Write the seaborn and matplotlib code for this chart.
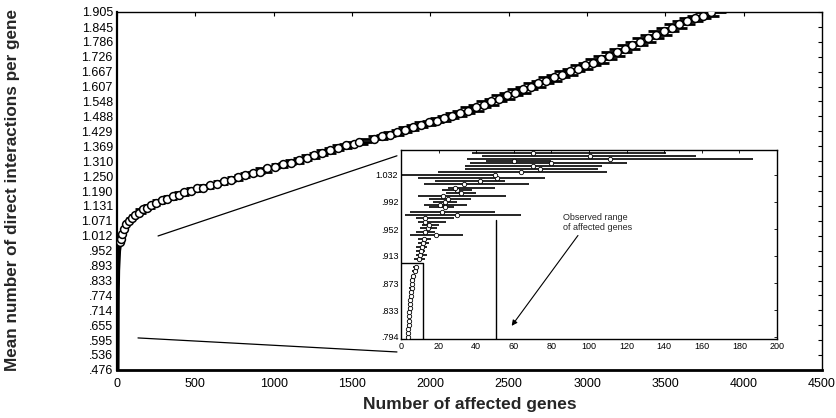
import numpy as np
import pandas as pd
import matplotlib
matplotlib.use("Agg")
import matplotlib.pyplot as plt
import seaborn as sns

# ---------------- data ----------------
y_tick_labels = ["1.905", "1.845", "1.786", "1.726", "1.667", "1.607", "1.548", "1.488",
                 "1.429", "1.369", "1.310", "1.250", "1.190", "1.131", "1.071", "1.012",
                 ".952", ".893", ".833", ".774", ".714", ".655", ".595", ".536", ".476"]
x_ticks = [0, 500, 1000, 1500, 2000, 2500, 3000, 3500, 4000, 4500]

# steep low part of the main curve
low_x = [2, 2.5, 3, 3.5, 4, 5, 6, 9, 12, 16, 22]
low_y = [0.476, 0.55, 0.65, 0.75, 0.794, 0.833, 0.873, 0.913, 0.952, 0.97, 0.985]

# main curve: mean number of genes affected (x), mean interactions (y), spread (xerr)
main_x = [22, 28, 35, 45, 60, 75, 95, 115, 140, 165, 190, 220, 250, 285, 320, 355, 395,
          430, 470, 510, 550, 595, 640, 685, 730, 775, 820, 865, 910, 960, 1010, 1060,
          1110, 1160, 1210, 1260, 1310, 1360, 1410, 1460, 1510, 1545, 1640, 1690, 1740,
          1790, 1840, 1890, 1940, 1990, 2040, 2090, 2140, 2190, 2240, 2290, 2340, 2390,
          2440, 2490, 2540, 2590, 2640, 2690, 2740, 2790, 2840, 2890, 2940, 2990, 3040,
          3090, 3140, 3190, 3240, 3290, 3340, 3390, 3440, 3490, 3540, 3590, 3640, 3690,
          3740, 3790]
main_y = [0.985, 1.000, 1.020, 1.040, 1.058, 1.072, 1.083, 1.095, 1.103, 1.118, 1.124,
          1.136, 1.143, 1.153, 1.160, 1.171, 1.176, 1.187, 1.191, 1.201, 1.204, 1.213,
          1.220, 1.231, 1.236, 1.246, 1.253, 1.263, 1.268, 1.281, 1.288, 1.299, 1.304,
          1.316, 1.323, 1.336, 1.343, 1.356, 1.363, 1.373, 1.378, 1.388, 1.400, 1.411,
          1.416, 1.427, 1.434, 1.446, 1.452, 1.464, 1.470, 1.481, 1.488, 1.503, 1.511,
          1.527, 1.534, 1.549, 1.557, 1.573, 1.581, 1.597, 1.604, 1.621, 1.628, 1.646,
          1.653, 1.669, 1.676, 1.693, 1.701, 1.719, 1.728, 1.746, 1.756, 1.775, 1.784,
          1.803, 1.812, 1.831, 1.842, 1.858, 1.868, 1.882, 1.891, 1.904]
main_xerr = [8, 10, 15, 20, 25, 30, 35, 40, 45, 50, 50, 55, 55, 60, 60, 60, 65, 65, 65,
             70, 70, 70, 70, 75, 75, 75, 75, 80, 80, 80, 80, 80, 85, 85, 85, 85, 85, 90,
             90, 90, 90, 80, 90, 90, 90, 90, 90, 95, 95, 95, 95, 95, 95, 95, 100, 100,
             100, 100, 100, 100, 100, 100, 100, 100, 100, 100, 100, 100, 100, 100, 100,
             100, 100, 100, 100, 100, 100, 100, 100, 100, 100, 100, 100, 100, 100, 100]

# inset: mean (x), lower / upper extent of spread, interactions (y)
in_y = [0.794, 0.800, 0.806, 0.812, 0.818, 0.824, 0.830, 0.836, 0.842, 0.848, 0.854,
        0.860, 0.866, 0.872, 0.878, 0.884, 0.890, 0.896, 0.908, 0.914, 0.920, 0.926,
        0.932, 0.937, 0.943, 0.948, 0.953, 0.958, 0.963, 0.968, 0.973, 0.977, 0.984,
        0.988, 0.992, 0.996, 1.000, 1.005, 1.009, 1.013, 1.018, 1.022, 1.027, 1.031,
        1.036, 1.040, 1.044, 1.049, 1.052, 1.055, 1.059, 1.064]
in_x = [3.5, 3.6, 3.8, 4.0, 4.2, 4.3, 4.5, 4.7, 4.8, 5.0, 5.2, 5.3, 5.6, 5.8, 6.1, 6.6,
        7.2, 7.8, 9.5, 10.2, 10.8, 11.0, 11.5, 12.0, 18.5, 12.5, 14.5, 14.9, 12.6, 13.0,
        30.0, 22.0, 23.4, 21.0, 23.4, 25.0, 22.5, 32.0, 30.0, 28.7, 33.7, 42.0, 50.9,
        50.0, 64.0, 74.0, 70.0, 80.0, 60.0, 111.0, 100.5, 70.0]
in_lo = [2.8, 2.9, 3.0, 3.2, 3.4, 3.5, 3.7, 3.8, 3.9, 4.0, 4.2, 4.3, 4.5, 4.6, 4.9, 5.2,
         5.7, 6.2, 7.0, 8.0, 8.0, 8.0, 9.0, 9.0, 4.8, 8.0, 10.0, 11.0, 9.0, 8.0, 2.0, 5.0,
         15.0, 12.0, 17.0, 15.0, 9.0, 24.0, 22.0, 25.0, 12.0, 18.0, 9.0, 0.0, 19.7, 34.0,
         34.0, 36.7, 45.0, 35.0, 43.0, 38.0]
in_hi = [4.3, 4.4, 4.6, 4.8, 5.0, 5.2, 5.4, 5.6, 5.8, 6.0, 6.3, 6.4, 6.8, 7.0, 7.4, 8.0,
         8.8, 9.5, 13.0, 14.0, 13.0, 14.0, 15.0, 16.0, 33.0, 18.0, 19.0, 20.0, 24.0, 28.0,
         64.0, 50.0, 28.0, 35.0, 30.0, 37.0, 56.0, 40.0, 38.0, 50.0, 68.0, 55.3, 76.6,
         51.0, 109.6, 105.0, 107.0, 120.0, 80.0, 187.0, 157.0, 141.0]

in_x_ticks = [0, 20, 40, 60, 80, 100, 120, 140, 160, 180, 200]
in_y_ticks = [0.794, 0.833, 0.873, 0.913, 0.952, 0.992, 1.032]
in_y_tick_labels = [".794", ".833", ".873", ".913", ".952", ".992", "1.032"]

# observed range markers in the inset
range_low_x = [0, 11.5, 11.5]
range_low_y = [0.903, 0.903, 0.791]
range_high_x = [50.5, 50.5]
range_high_y = [0.965, 0.791]

# zoom connector lines (main data coords)
conn_top_x = [262, 1787]
conn_top_y = [1.011, 1.331]
conn_bot_x = [134, 1787]
conn_bot_y = [0.604, 0.548]

# ---------------- style ----------------
sns.set_theme(style="white")
plt.rcParams["font.family"] = ["Liberation Sans", "DejaVu Sans"]

fig = plt.figure(figsize=(8.36, 4.18), dpi=100)
W, H = 836, 418
ax = fig.add_axes([117 / W, 1 - 370 / H, (822 - 117) / W, (370 - 12) / H])

main_df = pd.DataFrame({"genes": main_x, "inter": main_y, "err": main_xerr})
low_df = pd.DataFrame({"genes": low_x, "inter": low_y})

ax.errorbar(main_df["genes"], main_df["inter"], xerr=main_df["err"], fmt="none",
            ecolor="black", elinewidth=2.0, capsize=0, zorder=2)
sns.lineplot(data=low_df, x="genes", y="inter", ax=ax, color="black", lw=3.2,
             sort=False, zorder=3)
sns.scatterplot(data=main_df, x="genes", y="inter", ax=ax, marker="o", s=32,
                facecolor="white", edgecolor="black", linewidth=1.1, zorder=4)

ax.plot(conn_top_x, conn_top_y, color="black", lw=0.9, zorder=1)
ax.plot(conn_bot_x, conn_bot_y, color="black", lw=0.9, zorder=1)

ax.set_xlim(0, 4500)
ax.set_ylim(0.476, 1.905)
ax.set_xticks(x_ticks)
ax.set_xticklabels([str(v) for v in x_ticks])
ax.set_yticks([float(s) for s in y_tick_labels])
ax.set_yticklabels(y_tick_labels)
ax.tick_params(direction="in", top=True, right=True, length=3, width=0.8,
               labelsize=9, colors="black", pad=3)
ax.tick_params(axis="x", pad=6)
for side, sp in ax.spines.items():
    sp.set_color("black")
    sp.set_linewidth(1.0)
ax.spines["bottom"].set_linewidth(2.0)
ax.spines["left"].set_linewidth(1.6)
ax.set_xlabel("")
ax.set_ylabel("")

fig.text(13 / W, 1 - 190 / H, "Mean number of direct interactions per gene",
         rotation=90, ha="center", va="center", fontsize=12.3, fontweight="bold")
fig.text(470 / W, 1 - 405 / H, "Number of affected genes",
         ha="center", va="center", fontsize=12.5, fontweight="bold")

# ---------------- inset ----------------
axi = fig.add_axes([401 / W, 1 - 339 / H, (777 - 401) / W, (339 - 150) / H])
in_df = pd.DataFrame({"genes": in_x, "lo": in_lo, "hi": in_hi, "inter": in_y})
axi.errorbar(in_df["genes"], in_df["inter"],
             xerr=[in_df["genes"] - in_df["lo"], in_df["hi"] - in_df["genes"]],
             fmt="none", ecolor="black", elinewidth=1.2, capsize=0, zorder=2)
sns.scatterplot(data=in_df, x="genes", y="inter", ax=axi, marker="o", s=10,
                facecolor="white", edgecolor="black", linewidth=0.6, zorder=4)
axi.plot(range_low_x, range_low_y, color="black", lw=1.0)
axi.plot(range_high_x, range_high_y, color="black", lw=1.0)
axi.annotate("", xy=(58, 0.807), xytext=(95, 0.946),
             arrowprops=dict(arrowstyle="-|>", color="black", lw=0.8,
                             mutation_scale=8))
axi.text(86, 0.962, "Observed range\nof affected genes", fontsize=6.5,
         ha="left", va="center", linespacing=1.1)
axi.set_xlim(0, 200)
axi.set_ylim(0.791, 1.068)
axi.set_xticks(in_x_ticks)
axi.set_xticklabels([str(v) for v in in_x_ticks])
axi.set_yticks(in_y_ticks)
axi.set_yticklabels(in_y_tick_labels)
axi.tick_params(direction="in", top=True, right=True, length=2, width=0.6,
                labelsize=6.5, colors="black", pad=2)
for sp in axi.spines.values():
    sp.set_color("black")
    sp.set_linewidth(1.0)
axi.set_xlabel("")
axi.set_ylabel("")
axi.set_facecolor("white")

fig.savefig("out.png", dpi=100)
